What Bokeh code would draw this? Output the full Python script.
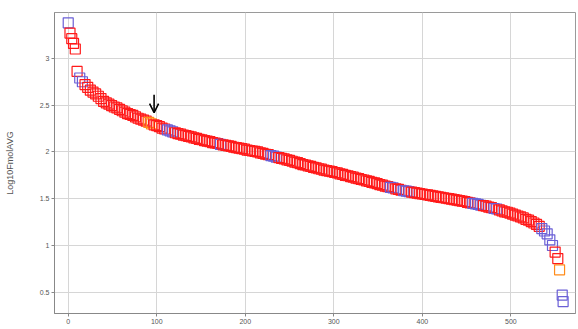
from bokeh.plotting import figure
from bokeh.models import (ColumnDataSource, Range1d, FixedTicker, CustomJSTickFormatter,
                          Arrow, OpenHead, Label)
from bokeh.embed import file_html
from bokeh.resources import INLINE

# ---- data ----
head_ranks = [0, 2, 4, 6, 8]
head_values = [3.38, 3.27, 3.21, 3.16, 3.10]

body_ranks = list(range(10, 553, 3))
body_values = [
    2.86, 2.79, 2.75, 2.72, 2.69, 2.66, 2.64, 2.62, 2.595, 2.57,
    2.54, 2.525, 2.51, 2.495, 2.48, 2.47, 2.455, 2.44, 2.425, 2.41,
    2.40, 2.39, 2.375, 2.36, 2.35, 2.34, 2.33, 2.315, 2.30, 2.29,
    2.28, 2.27, 2.255, 2.245, 2.235, 2.225, 2.215, 2.205, 2.195, 2.19,
    2.18, 2.175, 2.165, 2.16, 2.15, 2.145, 2.135, 2.13, 2.12, 2.115,
    2.11, 2.10, 2.095, 2.09, 2.08, 2.075, 2.07, 2.065, 2.06, 2.05,
    2.045, 2.04, 2.035, 2.03, 2.02, 2.015, 2.01, 2.005, 2.00, 1.99,
    1.985, 1.975, 1.97, 1.96, 1.955, 1.945, 1.94, 1.93, 1.925, 1.915,
    1.91, 1.90, 1.89, 1.885, 1.875, 1.865, 1.86, 1.85, 1.845, 1.835,
    1.83, 1.82, 1.815, 1.805, 1.80, 1.795, 1.79, 1.78, 1.775, 1.765,
    1.76, 1.75, 1.745, 1.735, 1.73, 1.72, 1.715, 1.705, 1.70, 1.69,
    1.685, 1.675, 1.67, 1.66, 1.65, 1.645, 1.635, 1.63, 1.62, 1.615,
    1.605, 1.60, 1.59, 1.585, 1.58, 1.575, 1.57, 1.565, 1.56, 1.555,
    1.55, 1.545, 1.54, 1.535, 1.53, 1.525, 1.52, 1.515, 1.51, 1.505,
    1.50, 1.495, 1.49, 1.485, 1.48, 1.475, 1.47, 1.46, 1.455, 1.45,
    1.445, 1.44, 1.43, 1.425, 1.42, 1.41, 1.405, 1.395, 1.39, 1.38,
    1.37, 1.36, 1.355, 1.345, 1.335, 1.325, 1.315, 1.305, 1.295, 1.28,
    1.27, 1.255, 1.24, 1.225, 1.205, 1.18, 1.155, 1.125, 1.06, 1.00,
    0.93,
]

tail_ranks = [553, 555, 558, 559]
tail_values = [0.86, 0.74, 0.47, 0.40]

blue_ranks = [0, 13, 16, 112, 115, 118, 172, 229, 232, 235, 364, 367, 379, 382,
              385, 457, 460, 463, 466, 481, 484, 535, 538, 541, 544, 547, 558, 559]
orange_ranks = [91, 94, 555]

arrow_rank = 97
arrow_from = 2.61
arrow_to = 2.42

x_ticks = [0, 100, 200, 300, 400, 500]
y_ticks = [0.5, 1, 1.5, 2, 2.5, 3]

x_title = "Protein Rank"
y_title = "Log10FmolAVG"

# ---- build ----
ranks = head_ranks + body_ranks[:len(body_values)] + tail_ranks
values = head_values + body_values[:len(body_ranks)] + tail_values

RED = "#ff1a1a"
BLUE = "#6a5fd6"
ORANGE = "#ff8c1a"
colors = []
for r in ranks:
    if r in blue_ranks:
        colors.append(BLUE)
    elif r in orange_ranks:
        colors.append(ORANGE)
    else:
        colors.append(RED)

src = ColumnDataSource(dict(rank=ranks, value=values, color=colors))

p = figure(width=578, height=329, output_backend="svg", toolbar_location=None,
           x_range=Range1d(-15.5, 573), y_range=Range1d(0.273, 3.49),
           min_border_left=54, min_border_right=3, min_border_top=12,
           min_border_bottom=16)

p.scatter("rank", "value", source=src, marker="square", size=10,
          fill_color=None, line_color="color", line_width=1.2)

p.add_layout(Arrow(end=OpenHead(size=9, line_width=1.6, line_color="black"),
                   x_start=arrow_rank, y_start=arrow_from,
                   x_end=arrow_rank, y_end=arrow_to,
                   line_width=1.6, line_color="black"))

p.outline_line_color = "#9a9a9a"
p.outline_line_width = 1
p.background_fill_color = "white"
p.border_fill_color = "white"

for g in (p.xgrid[0], p.ygrid[0]):
    g.grid_line_color = "#d6d6d6"
    g.grid_line_width = 1

p.xaxis.ticker = FixedTicker(ticks=x_ticks)
p.yaxis.ticker = FixedTicker(ticks=y_ticks)
p.yaxis.formatter = CustomJSTickFormatter(code="return tick.toString();")
p.xaxis.formatter = CustomJSTickFormatter(code="return tick.toString();")

for ax in (p.xaxis[0], p.yaxis[0]):
    ax.axis_line_color = "#888888"
    ax.major_tick_line_color = "#888888"
    ax.major_tick_in = 0
    ax.major_tick_out = 3
    ax.minor_tick_line_color = None
    ax.major_label_text_font = "Liberation Sans"
    ax.major_label_text_font_size = "7px"
    ax.major_label_text_color = "#555555"
    ax.major_label_standoff = 2

p.yaxis.axis_label = y_title
p.yaxis.axis_label_text_font = "Liberation Sans"
p.yaxis.axis_label_text_font_size = "9px"
p.yaxis.axis_label_text_font_style = "normal"
p.yaxis.axis_label_text_color = "#555555"
p.yaxis.axis_label_standoff = 22

p.add_layout(Label(x=255, y=0.188, text=x_title, text_align="center",
                   text_baseline="top", text_font="Liberation Sans",
                   text_font_size="8px", text_color="#555555"))

open("out.html", "w").write(file_html(p, INLINE))
